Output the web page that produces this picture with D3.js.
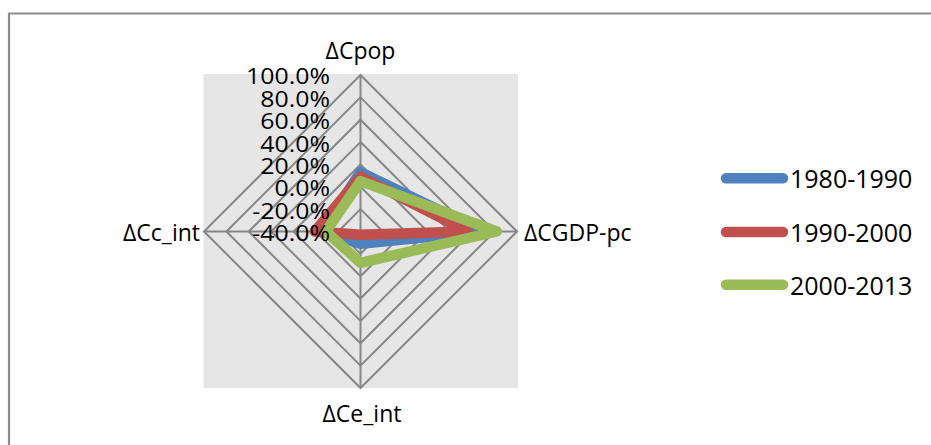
<!DOCTYPE html>
<html>
<head>
<meta charset="utf-8">
<script src="https://cdn.jsdelivr.net/npm/d3@7"></script>
<style>
  html, body { margin: 0; padding: 0; background: #fff; }
  svg { display: block; }
  text { font-family: "Open Sans", "Noto Sans", sans-serif; fill: #000; }
</style>
</head>
<body>
<svg id="chart" width="931" height="445"></svg>
<script>
// ---- data ----
const axesLabels = ["ΔCpop", "ΔCGDP-pc", "ΔCe_int", "ΔCc_int"];
const seriesNames = ["1980-1990", "1990-2000", "2000-2013"];
const values1980_1990 = [0.13, 0.70, -0.29, -0.05];
const values1990_2000 = [0.09, 0.56, -0.37, 0.01];
const values2000_2013 = [0.05, 0.82, -0.12, -0.09];
const tickValues = [-0.4, -0.2, 0.0, 0.2, 0.4, 0.6, 0.8, 1.0];
const seriesColors = ["#4F81BD", "#C0504D", "#9BBB59"];

const seriesData = [values1980_1990, values1990_2000, values2000_2013];

// ---- layout ----
const svg = d3.select("#chart");
const cx = 360.5, cy = 231.5, R = 156.5;
const r = d3.scaleLinear().domain([tickValues[0], tickValues[tickValues.length - 1]]).range([0, R]);
const angle = i => i * Math.PI / 2; // 0 = up, clockwise
const fmt = d3.formatLocale({decimal: ".", thousands: ",", grouping: [3], currency: ["$", ""], minus: "-"}).format(".1%");

// chart border
svg.append("path")
  .attr("d", "M9,445 V13.5 H931")
  .attr("fill", "none")
  .attr("stroke", "#8c8c8c")
  .attr("stroke-width", 2.2);

const g = svg.append("g").attr("transform", `translate(${cx},${cy})`);

// plot area background
g.append("rect")
  .attr("x", -R - 0.5).attr("y", -R - 1)
  .attr("width", 2 * R + 1.5).attr("height", 2 * R + 1)
  .attr("fill", "#E6E6E6");

// rings
const ringLine = d3.lineRadial().angle((d, i) => angle(i)).radius(d => r(d)).curve(d3.curveLinearClosed);
tickValues.slice(1).forEach(t => {
  g.append("path")
    .attr("d", ringLine(axesLabels.map(() => t)))
    .attr("fill", "none")
    .attr("stroke", "#868686")
    .attr("stroke-width", 2);
});

// spokes
axesLabels.forEach((a, i) => {
  const [x, y] = d3.pointRadial(angle(i), r(tickValues[tickValues.length - 1]));
  g.append("line")
    .attr("x1", 0).attr("y1", 0).attr("x2", x).attr("y2", y)
    .attr("stroke", "#868686").attr("stroke-width", 2);
});

// series
const seriesLine = d3.lineRadial().angle((d, i) => angle(i)).radius(d => r(d)).curve(d3.curveLinearClosed);
seriesData.forEach((vals, k) => {
  g.append("path")
    .attr("d", seriesLine(vals))
    .attr("fill", "none")
    .attr("stroke", seriesColors[k])
    .attr("stroke-width", 10.5)
    .attr("stroke-linejoin", "round");
});

// tick labels (right aligned, stretched like original)
tickValues.forEach(t => {
  svg.append("text")
    .attr("transform", `translate(330,${cy - r(t) + 1}) scale(1.13,1)`)
    .attr("text-anchor", "end")
    .attr("dominant-baseline", "central")
    .style("font-size", "22px")
    .text(fmt(t));
});

// axis labels
const labelPos = [
  {x: 360.5, y: 50, anchor: "middle"},
  {x: 524, y: 232, anchor: "start"},
  {x: 362, y: 413, anchor: "middle"},
  {x: 200, y: 232, anchor: "end"}
];
axesLabels.forEach((a, i) => {
  svg.append("text")
    .attr("x", labelPos[i].x).attr("y", labelPos[i].y)
    .attr("text-anchor", labelPos[i].anchor)
    .attr("dominant-baseline", "central")
    .style("font-size", "23px")
    .text(a);
});

// legend
const legendY = [178.3, 232, 284.7];
seriesNames.forEach((name, k) => {
  svg.append("line")
    .attr("x1", 726).attr("x2", 783)
    .attr("y1", legendY[k]).attr("y2", legendY[k])
    .attr("stroke", seriesColors[k])
    .attr("stroke-width", 10.5)
    .attr("stroke-linecap", "round");
  svg.append("text")
    .attr("x", 790).attr("y", legendY[k])
    .attr("dominant-baseline", "central")
    .style("font-size", "25px")
    .text(name);
});
</script>
</body>
</html>
